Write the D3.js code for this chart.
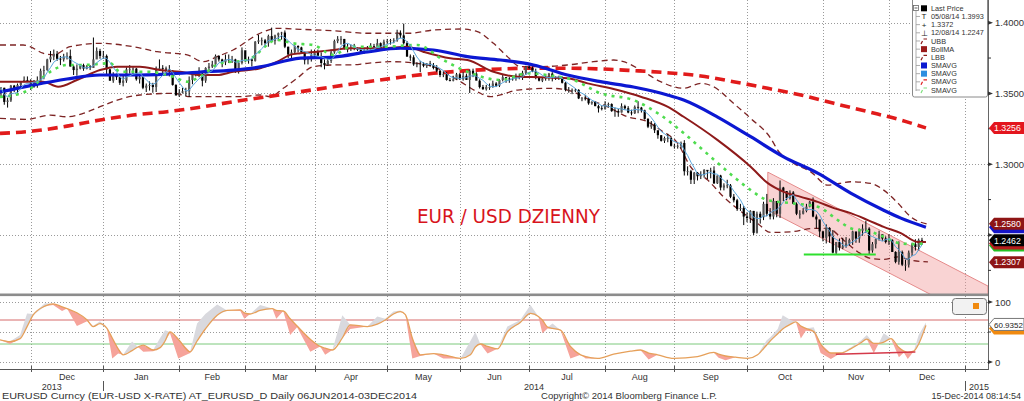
<!DOCTYPE html>
<html><head><meta charset="utf-8">
<script src="https://cdn.jsdelivr.net/npm/d3@7"></script>
<style>
body{margin:0;background:#fff}
svg{display:block}
text{font-family:"Liberation Sans",Arial,sans-serif}
</style></head>
<body><svg id="c" width="1024" height="401"></svg>
<script>
// ---------------- DATA ----------------
// trading-day index of first bar (19 Nov 2013); index 0 = 2 Dec 2013
const priceStart = -9;
const hi = [
 1.3545,1.3540,1.3470,1.3560,1.3560,1.3570,1.3585,1.3620,1.3620,
 1.3600,1.3595,1.3620,1.3675,1.3695,1.3745,1.3800,1.3810,1.3800,1.3765,1.3780,1.3790,1.3810,1.3700,1.3705,1.3705,1.3710,1.3700,1.3700,1.3895,1.3825,1.3815,
 1.3800,1.3775,1.3675,1.3650,1.3640,1.3620,1.3625,1.3685,1.3700,1.3685,1.3680,1.3630,1.3620,1.3570,1.3585,1.3575,1.3690,1.3740,1.3700,1.3690,1.3700,1.3665,1.3565,
 1.3530,1.3540,1.3540,1.3620,1.3640,1.3650,1.3685,1.3645,1.3685,1.3715,1.3730,1.3775,1.3770,1.3745,1.3775,1.3775,1.3765,1.3745,1.3725,1.3825,
 1.3790,1.3760,1.3745,1.3870,1.3915,1.3895,1.3885,1.3915,1.3965,1.3915,1.3930,1.3935,1.3945,1.3830,1.3810,1.3840,1.3840,1.3830,1.3795,1.3760,1.3810,
 1.3810,1.3810,1.3790,1.3740,1.3745,1.3810,1.3880,1.3905,1.3905,1.3885,1.3850,1.3845,1.3850,1.3825,1.3815,1.3815,1.3835,1.3855,1.3850,1.3885,1.3860,1.3880,
 1.3885,1.3885,1.3890,1.3950,1.3945,1.3993,1.3870,1.3775,1.3770,1.3720,1.3730,1.3720,1.3715,1.3730,1.3715,1.3700,1.3665,1.3655,1.3650,1.3610,1.3625,1.3645,
 1.3645,1.3650,1.3640,1.3670,1.3675,1.3650,1.3600,1.3560,1.3560,1.3570,1.3590,1.3580,1.3600,1.3630,1.3615,1.3615,1.3625,1.3640,1.3640,1.3660,1.3695,
 1.3700,1.3690,1.3675,1.3615,1.3615,1.3635,1.3645,1.3650,1.3620,1.3625,1.3620,1.3580,1.3545,1.3535,1.3535,1.3530,1.3475,1.3490,1.3470,1.3445,1.3445,1.3420,1.3415,
 1.3445,1.3435,1.3430,1.3400,1.3390,1.3430,1.3420,1.3410,1.3385,1.3415,1.3445,1.3405,1.3385,1.3325,1.3305,1.3290,1.3215,1.3205,1.3195,1.3215,1.3195,
 1.3145,1.3140,1.3160,1.3170,1.2985,1.2960,1.2945,1.2945,1.2950,1.2965,1.2955,1.2975,1.2985,1.2920,1.2925,1.2865,1.2890,1.2860,1.2790,1.2755,1.2720,1.2705,
 1.2660,1.2675,1.2670,1.2665,1.2665,1.2735,1.2790,1.2690,1.2760,1.2740,1.2885,1.2840,1.2810,1.2815,1.2810,1.2730,1.2675,1.2690,1.2720,1.2740,1.2765,1.2645,1.2600,
 1.2530,1.2575,1.2555,1.2535,1.2450,1.2475,1.2480,1.2485,1.2475,1.2530,1.2520,1.2545,1.2575,1.2600,1.2555,1.2450,1.2475,1.2530,1.2500,1.2490,
 1.2505,1.2470,1.2385,1.2455,1.2390,1.2325,1.2390,1.2445,1.2470,1.2475,1.2480
];
const lo = [
 1.3480,1.3420,1.3400,1.3440,1.3510,1.3500,1.3540,1.3580,1.3580,
 1.3525,1.3540,1.3540,1.3570,1.3600,1.3660,1.3720,1.3735,1.3730,1.3700,1.3725,1.3740,1.3690,1.3630,1.3625,1.3670,1.3660,1.3670,1.3665,1.3680,1.3750,1.3745,
 1.3745,1.3625,1.3590,1.3575,1.3595,1.3560,1.3550,1.3575,1.3640,1.3630,1.3590,1.3570,1.3530,1.3510,1.3520,1.3505,1.3510,1.3660,1.3640,1.3640,1.3620,1.3555,1.3490,
 1.3475,1.3500,1.3480,1.3475,1.3565,1.3620,1.3615,1.3550,1.3575,1.3660,1.3680,1.3700,1.3725,1.3685,1.3700,1.3715,1.3715,1.3645,1.3640,1.3705,
 1.3720,1.3710,1.3690,1.3725,1.3850,1.3840,1.3830,1.3830,1.3865,1.3845,1.3870,1.3880,1.3820,1.3750,1.3750,1.3780,1.3790,1.3780,1.3705,1.3705,1.3725,
 1.3755,1.3755,1.3685,1.3670,1.3695,1.3715,1.3780,1.3855,1.3845,1.3810,1.3790,1.3800,1.3805,1.3800,1.3780,1.3780,1.3795,1.3800,1.3815,1.3815,1.3805,1.3800,
 1.3850,1.3845,1.3855,1.3865,1.3890,1.3845,1.3760,1.3730,1.3695,1.3685,1.3650,1.3685,1.3680,1.3690,1.3670,1.3650,1.3615,1.3615,1.3590,1.3585,1.3585,1.3595,
 1.3595,1.3590,1.3595,1.3503,1.3615,1.3595,1.3535,1.3525,1.3520,1.3525,1.3540,1.3545,1.3545,1.3585,1.3575,1.3575,1.3590,1.3590,1.3600,1.3595,1.3630,
 1.3670,1.3650,1.3600,1.3585,1.3580,1.3590,1.3590,1.3585,1.3595,1.3595,1.3570,1.3515,1.3505,1.3495,1.3510,1.3460,1.3445,1.3450,1.3420,1.3420,1.3410,1.3365,1.3380,
 1.3385,1.3400,1.3370,1.3335,1.3335,1.3365,1.3385,1.3360,1.3345,1.3355,1.3360,1.3365,1.3315,1.3255,1.3250,1.3220,1.3180,1.3160,1.3150,1.3155,1.3125,
 1.3110,1.3110,1.3110,1.2920,1.2920,1.2860,1.2860,1.2885,1.2895,1.2905,1.2895,1.2900,1.2860,1.2860,1.2815,1.2815,1.2830,1.2760,1.2730,1.2670,1.2670,1.2570,
 1.2590,1.2585,1.2500,1.2510,1.2580,1.2605,1.2635,1.2610,1.2610,1.2625,1.2620,1.2740,1.2745,1.2750,1.2720,1.2640,1.2615,1.2645,1.2660,1.2695,1.2625,1.2545,1.2485,
 1.2455,1.2440,1.2445,1.2370,1.2360,1.2390,1.2400,1.2410,1.2425,1.2430,1.2445,1.2445,1.2495,1.2515,1.2360,1.2375,1.2405,1.2460,1.2460,1.2440,
 1.2430,1.2380,1.2300,1.2290,1.2280,1.2247,1.2270,1.2350,1.2390,1.2390,1.2430
];
const cl = [
 1.3540,1.3440,1.3450,1.3555,1.3525,1.3560,1.3580,1.3595,1.3590,
 1.3545,1.3590,1.3590,1.3660,1.3665,1.3740,1.3760,1.3780,1.3745,1.3740,1.3760,1.3765,1.3690,1.3665,1.3675,1.3700,1.3675,1.3690,1.3680,1.3740,1.3800,1.3765,
 1.3765,1.3670,1.3590,1.3630,1.3615,1.3575,1.3590,1.3670,1.3670,1.3675,1.3600,1.3615,1.3540,1.3555,1.3560,1.3545,1.3680,1.3680,1.3675,1.3670,1.3660,1.3560,1.3485,
 1.3505,1.3515,1.3515,1.3595,1.3635,1.3635,1.3640,1.3590,1.3680,1.3690,1.3705,1.3765,1.3740,1.3720,1.3740,1.3740,1.3740,1.3670,1.3715,1.3805,
 1.3740,1.3740,1.3730,1.3865,1.3875,1.3875,1.3855,1.3905,1.3870,1.3910,1.3925,1.3930,1.3830,1.3775,1.3790,1.3835,1.3825,1.3790,1.3735,1.3750,1.3770,
 1.3795,1.3765,1.3715,1.3700,1.3730,1.3790,1.3870,1.3885,1.3885,1.3815,1.3815,1.3820,1.3815,1.3810,1.3790,1.3800,1.3810,1.3835,1.3830,1.3855,1.3810,1.3865,
 1.3870,1.3875,1.3875,1.3925,1.3910,1.3855,1.3760,1.3755,1.3705,1.3710,1.3710,1.3695,1.3710,1.3700,1.3680,1.3660,1.3630,1.3635,1.3595,1.3590,1.3600,1.3635,
 1.3600,1.3625,1.3595,1.3660,1.3640,1.3590,1.3545,1.3530,1.3545,1.3545,1.3570,1.3555,1.3595,1.3615,1.3605,1.3600,1.3605,1.3620,1.3615,1.3645,1.3690,
 1.3680,1.3655,1.3610,1.3590,1.3605,1.3615,1.3640,1.3610,1.3605,1.3610,1.3575,1.3525,1.3525,1.3525,1.3525,1.3465,1.3465,1.3460,1.3430,1.3440,1.3410,1.3395,1.3390,
 1.3425,1.3425,1.3375,1.3375,1.3365,1.3410,1.3395,1.3365,1.3360,1.3405,1.3400,1.3380,1.3320,1.3265,1.3280,1.3240,1.3205,1.3165,1.3185,1.3185,1.3130,
 1.3130,1.3130,1.3150,1.2950,1.2950,1.2890,1.2940,1.2915,1.2925,1.2960,1.2950,1.2955,1.2865,1.2920,1.2835,1.2850,1.2850,1.2770,1.2745,1.2685,1.2690,1.2630,
 1.2620,1.2670,1.2515,1.2650,1.2625,1.2720,1.2650,1.2630,1.2740,1.2650,1.2835,1.2810,1.2760,1.2800,1.2720,1.2650,1.2650,1.2670,1.2700,1.2735,1.2630,1.2610,1.2525,
 1.2480,1.2550,1.2490,1.2375,1.2450,1.2410,1.2420,1.2440,1.2465,1.2525,1.2475,1.2530,1.2545,1.2545,1.2390,1.2435,1.2470,1.2505,1.2475,1.2450,
 1.2465,1.2380,1.2310,1.2380,1.2290,1.2290,1.2375,1.2435,1.2415,1.2465,1.2462
];

// indicator lines: [trading-day index, price]
const sma100 = [[-9.3,1.3510],[0.7,1.3559],[11,1.3602],[21,1.3630],[31,1.3630],[41.3,1.3637],[51.3,1.3651],[61.3,1.3665],[69.5,1.3687],[81.7,1.3750],[91.7,1.3757],[102,1.3793],[112,1.3819],[122,1.3807],[132.3,1.3760],[142.3,1.3736],[152.3,1.3701],[162.6,1.3630],[172.6,1.3583],[182.6,1.3545],[192.9,1.3489],[197.8,1.3453],[208.1,1.3333],[218.1,1.3194],[228.1,1.3052],[238.4,1.2937],[248.4,1.2796],[258.4,1.2675],[263.6,1.2619],[271.2,1.2555]];
const bollMA = [[-9.3,1.3583],[3.7,1.3583],[8.3,1.3547],[14,1.3595],[21,1.3665],[26.2,1.3689],[33.1,1.3689],[39.2,1.3665],[45.3,1.3653],[51.3,1.3630],[56.5,1.3630],[61.3,1.3653],[69.5,1.3678],[74.7,1.3724],[78.6,1.3772],[81.7,1.3784],[86.8,1.3795],[91.7,1.3807],[96.8,1.3819],[106.8,1.3819],[114.1,1.3830],[118.9,1.3795],[127.1,1.3748],[132.3,1.3736],[140.2,1.3653],[147.5,1.3618],[154.4,1.3614],[162.6,1.3607],[168.7,1.3571],[177.8,1.3524],[184.8,1.3477],[192.9,1.3406],[197.8,1.3335],[208.1,1.3170],[218.1,1.2982],[223.3,1.2866],[228.1,1.2805],[233.3,1.2769],[238.4,1.2734],[243.3,1.2690],[248.4,1.2654],[253.6,1.2605],[258.4,1.2557],[263.6,1.2513],[268.7,1.2451],[271.2,1.2451]];
const upperBand = [[-9.3,1.3842],[-2.3,1.3842],[-0.2,1.3830],[3.7,1.3784],[6.8,1.3772],[11.9,1.3830],[21,1.3854],[31,1.3830],[38.3,1.3795],[47.4,1.3772],[52.3,1.3724],[56.5,1.3760],[61.3,1.3807],[69.5,1.3925],[74.7,1.3960],[81.7,1.3953],[91.7,1.3943],[102,1.3925],[115,1.3925],[122,1.3948],[130.2,1.3955],[135.3,1.3936],[140.2,1.3854],[144.4,1.3760],[148.4,1.3689],[154.4,1.3689],[162.6,1.3701],[170.5,1.3724],[176.6,1.3736],[179.6,1.3724],[184.8,1.3665],[190.8,1.3583],[197.8,1.3536],[203,1.3571],[206.9,1.3547],[212.9,1.3430],[218.1,1.3324],[224.2,1.3182],[226.3,1.3100],[231.2,1.3006],[236.3,1.2946],[241.5,1.2852],[248.4,1.2876],[254.5,1.2864],[258.4,1.2817],[262.7,1.2725],[266.6,1.2628],[271.8,1.2576]];
const lowerBand = [[-9.3,1.3324],[-1.1,1.3317],[5.9,1.3347],[11,1.3335],[15.9,1.3359],[21,1.3406],[26.2,1.3453],[33.1,1.3489],[43.2,1.3501],[48.3,1.3477],[63.5,1.3477],[69.5,1.3489],[72.6,1.3477],[76.5,1.3536],[80.7,1.3607],[85.6,1.3689],[91.7,1.3701],[96.8,1.3701],[102,1.3713],[108.9,1.3724],[117.1,1.3713],[122,1.3689],[129.3,1.3595],[135.3,1.3512],[139.3,1.3477],[142.3,1.3489],[147.5,1.3524],[157.5,1.3536],[162.6,1.3524],[169.6,1.3453],[174.7,1.3406],[180.8,1.3335],[186.9,1.3300],[190.8,1.3241],[196,1.3147],[199.9,1.2982],[205.1,1.2888],[209.9,1.2769],[216,1.2652],[220.2,1.2581],[224.2,1.2518],[230.2,1.2522],[237.2,1.2546],[241.5,1.2546],[246.3,1.2463],[250.6,1.2380],[254.5,1.2334],[258.4,1.2327],[262.7,1.2345],[266.6,1.2322],[271.8,1.2310]];
const sma200 = [[-9.3,1.3218],[0.7,1.3234],[11,1.3269],[21,1.3312],[31,1.3347],[41.3,1.3371],[51.3,1.3402],[61.3,1.3441],[71.7,1.3477],[81.7,1.3512],[91.7,1.3547],[102,1.3583],[112,1.3614],[122,1.3642],[132.3,1.3661],[142.3,1.3673],[152.3,1.3678],[162.6,1.3678],[172.6,1.3673],[182.6,1.3661],[192.9,1.3646],[203,1.3623],[212.9,1.3583],[223.3,1.3536],[233.3,1.3489],[243.3,1.3430],[253.6,1.3371],[263.6,1.3312],[271.2,1.3256]];
const sma10 = [[-9.3,1.3475],[-1.7,1.3512],[5.9,1.3653],[11,1.3701],[15.9,1.3701],[24.1,1.3713],[27.1,1.3653],[35.3,1.3653],[43.2,1.3618],[47.4,1.3583],[51.3,1.3618],[57.4,1.3713],[65.6,1.3736],[74.7,1.3878],[79.5,1.3854],[85.6,1.3842],[91.7,1.3772],[96.8,1.3830],[106.8,1.3830],[117.1,1.3842],[125,1.3736],[132.3,1.3653],[142.3,1.3595],[150.5,1.3642],[158.4,1.3623],[164.4,1.3595],[172.6,1.3501],[182.6,1.3453],[190.8,1.3347],[197.8,1.3220],[206,1.3052],[213,1.2911],[218.1,1.2817],[223.3,1.2746],[230.2,1.2725],[238.4,1.2699],[244.5,1.2605],[248.4,1.2548],[254.5,1.2522],[258.4,1.2487],[263.6,1.2440],[268.7,1.2435],[271.2,1.2451]];

// drawn annotations
const channelTop = [[223.3,1.2944],[290,1.2139]];
const channelBottom = [[223.3,1.2675],[290,1.1870]];
const supportLine = [[234.2,1.2362],[256,1.2362]];
const oscTrendLine = [[243.9,12.8],[268,16.7]];

// oscillator: [index, slow (orange), fast]
const osc = [[-9.3,37,37],[-6.3,34,30],[-3.2,39,45],[-1.1,59,81],[0.7,78,80],[4.3,93,98],[6.8,97,95],[9.5,92,85],[11,89,89],[14,82,60],[17.1,70,68],[18.9,59,60],[21,64,68],[23.1,56,56],[24.7,40,6],[26.5,22,14],[28,12,12],[30.7,19,34],[32.5,25,25],[34.1,28,17],[37.1,20,18],[39.2,24,40],[40.7,35,53],[42.2,50,48],[44.7,38,6],[48.3,17,15],[50.4,35,64],[52.9,55,80],[56.5,78,96],[59.5,86,86],[63.5,87,85],[64.7,82,72],[66.5,80,80],[69.5,86,95],[73.2,89,89],[74.4,86,72],[76.5,85,85],[78.6,72,45],[80.7,60,58],[84.7,38,17],[87.7,26,26],[89.2,23,12],[91.4,20,20],[94.4,40,78],[96.8,62,55],[102,59,59],[105,63,76],[107.4,70,72],[109.9,80,84],[112,84,86],[113.5,79,79],[115.6,40,6],[118,12,10],[122,14,14],[125,12,6],[130.2,6,6],[133.2,12,35],[134.7,25,50],[136.2,30,30],[138.4,26,14],[141.4,22,22],[144.4,50,59],[148.3,66,70],[151.4,81,95],[153.8,76,76],[155,70,48],[156.6,58,56],[158.1,56,64],[160.5,53,53],[163.5,26,6],[166.6,12,12],[168.1,9,6],[171.7,6,6],[176.6,13,13],[181.7,18,18],[184.7,20,20],[187.2,15,4],[189.9,12,12],[194.8,6,6],[202,9,9],[206.9,16,16],[208.4,13,7],[210.5,10,3],[213.5,8,8],[217.2,6,6],[220.2,12,12],[222.9,28,36],[224.2,36,42],[226.3,47,55],[227.8,55,78],[230.2,63,70],[231.8,67,67],[233.3,60,39],[234.8,56,52],[237.2,51,58],[239.3,30,15],[242.4,15,5],[245.4,15,15],[248.4,22,24],[251.5,32,36],[253.3,38,45],[255.4,31,15],[256.9,31,31],[258.4,33,48],[260.6,39,39],[263,24,8],[264.5,18,16],[265.7,16,5],[267.5,18,18],[269,30,45],[271.2,61,66]];

// axes
const monthStarts = [0,22,45,65,86,108,130,151,174,195,217,240,260,283];
const monthLabels = ["Dec","Jan","Feb","Mar","Apr","May","Jun","Jul","Aug","Sep","Oct","Nov","Dec"];
const yearLabels = ["2013","2014","2015"];
const yearBounds = [22,283];
const priceTicks = [1.25,1.30,1.35,1.40];
const priceLabelsShown = [false,true,true,true]; // 1.2500 is hidden behind the value tags
const priceMinor = [1.225,1.275,1.325,1.375];
const oscTicks = [0,100];
const oscGridVals = [0,50,100];
const oscLevels = [30,70];

// right-axis value tags (covered ones show only as colour slivers)
const tags = [
 {v:1.3256, fill:"#e3161e", label:"1.3256", covered:false},
 {v:1.2555, fill:"#1616c8", label:"1.2555", covered:true},
 {v:1.2580, fill:"#8e1515", label:"1.2580", covered:false},
 {v:1.2425, fill:"#22c222", label:"1.2425", covered:true},
 {v:1.2440, fill:"#b51c1c", label:"1.2440", covered:true},
 {v:1.2462, fill:"#000000", label:"1.2462", covered:false},
 {v:1.2307, fill:"#8e1515", label:"1.2307", covered:false}
];
const legendRows = [
 {icon:"sq", color:"#000", label:"Last Price"},
 {icon:"T", label:"05/08/14 1.3993"},
 {icon:"+", label:"1.3372"},
 {icon:"⊥", label:"12/08/14 1.2247"},
 {icon:"dash", color:"#8b1a1a", label:"UBB"},
 {icon:"sq", color:"#9b1b1b", label:"BollMA"},
 {icon:"dash", color:"#8b1a1a", label:"LBB"},
 {icon:"sq", color:"#0b1ad0", label:"SMAVG"},
 {icon:"sq", color:"#2d8ee0", label:"SMAVG"},
 {icon:"dash", color:"#e02020", label:"SMAVG"},
 {icon:"dash", color:"#7ee07e", label:"SMAVG"}
];
const titleText = "EUR / USD DZIENNY";
const footLeft = "EURUSD Curncy (EUR-USD X-RATE) AT_EURUSD_D  Daily 06JUN2014-03DEC2014";
const footMid = "Copyright\u00A9 2014 Bloomberg Finance L.P.";
const footRight = "15-Dec-2014 08:14:54";
const oscLast = "60.9352";

// ---------------- CHART ----------------
const svg = d3.select("#c");
const XR = 988, MB = 294, LT = 296, LB = 369;
const x = d3.scaleLinear().domain([-9.3, 290]).range([0, XR]);
const y = d3.scaleLinear().domain([1.2083, 1.416]).range([MB, 0]);
const yo = d3.scaleLinear().domain([0, 100]).range([362, 302]);

const defs = svg.append("defs");
defs.append("clipPath").attr("id","cm").append("rect").attr("x",0).attr("y",0).attr("width",XR).attr("height",MB);
defs.append("clipPath").attr("id","co").append("rect").attr("x",0).attr("y",LT).attr("width",XR).attr("height",LB-LT);

// grid
const grid = svg.append("g").attr("stroke","#9a9a9a").attr("stroke-width",1).attr("stroke-dasharray","1,2").attr("fill","none");
monthStarts.forEach(m => {
  const xx = Math.round(x(m)) + 0.5;
  grid.append("line").attr("x1",xx).attr("x2",xx).attr("y1",0).attr("y2",MB);
  grid.append("line").attr("x1",xx).attr("x2",xx).attr("y1",LT).attr("y2",LB);
});
priceTicks.forEach(p => {
  const yy = Math.round(y(p)) + 0.5;
  grid.append("line").attr("x1",0).attr("x2",XR).attr("y1",yy).attr("y2",yy);
});
oscGridVals.forEach(v => {
  const yy = Math.round(yo(v)) + 0.5;
  grid.append("line").attr("x1",0).attr("x2",XR).attr("y1",yy).attr("y2",yy);
});

// ---- main panel
const main = svg.append("g").attr("clip-path","url(#cm)");
const ln = d3.line().x(d=>x(d[0])).y(d=>y(d[1])).curve(d3.curveMonotoneX);

// channel
const chPoly = [channelTop[0], channelTop[1], channelBottom[1], channelBottom[0]];
main.append("path").attr("d", d3.line().x(d=>x(d[0])).y(d=>y(d[1]))(chPoly) + "Z")
  .attr("fill","rgba(240,150,150,0.42)").attr("stroke","#e58a8a").attr("stroke-width",1);

// bands
[upperBand, lowerBand].forEach(b => main.append("path").attr("d", ln(b)).attr("fill","none")
  .attr("stroke","#7d2424").attr("stroke-width",1.3).attr("stroke-dasharray","6,4"));

// 200 SMA red dashed
main.append("path").attr("d", ln(sma200)).attr("fill","none").attr("stroke","#e11b1b")
  .attr("stroke-width",3.6).attr("stroke-dasharray","10,6");

// bars
const idx = d3.range(hi.length);
const bars = main.append("g");
bars.selectAll("line").data(idx).join("line")
  .attr("x1", i=>x(priceStart+i)).attr("x2", i=>x(priceStart+i))
  .attr("y1", i=>y(hi[i])).attr("y2", i=>y(lo[i]))
  .attr("stroke","#000").attr("stroke-width",1);
bars.selectAll("rect").data(idx).join("rect")
  .attr("x", i=>x(priceStart+i)-1.1).attr("width",2.2)
  .attr("y", i=>{const o=i>0?cl[i-1]:cl[i]; return y(Math.max(o,cl[i]));})
  .attr("height", i=>{const o=i>0?cl[i-1]:cl[i]; return Math.max(0.8, Math.abs(y(o)-y(cl[i])));})
  .attr("fill", i=>{const o=i>0?cl[i-1]:cl[i]; return cl[i]>=o?"#555":"#000";});

// BollMA
main.append("path").attr("d", ln(bollMA)).attr("fill","none").attr("stroke","#8e1a1a").attr("stroke-width",2);
// 100 SMA blue
main.append("path").attr("d", ln(sma100)).attr("fill","none").attr("stroke","#0c18d2").attr("stroke-width",3.2);
// green dotted
main.append("path").attr("d", ln(sma10)).attr("fill","none").attr("stroke","#4fdc4f")
  .attr("stroke-width",2.6).attr("stroke-dasharray","3,5");
// light-blue 5-day average of closes
const sma5 = cl.map((c,i)=>[priceStart+i, d3.mean(cl.slice(Math.max(0,i-4), i+1))]);
main.append("path").attr("d", d3.line().x(d=>x(d[0])).y(d=>y(d[1]))(sma5)).attr("fill","none")
  .attr("stroke","#5aa6dc").attr("stroke-width",1);

// support line
main.append("path").attr("d", d3.line().x(d=>x(d[0])).y(d=>y(d[1]))(supportLine))
  .attr("stroke","#2ee02e").attr("stroke-width",2.2).attr("fill","none");

// title
svg.append("text").attr("x",417).attr("y",223).attr("fill","#d8141c")
  .attr("font-size",20).style("font-family","'DejaVu Sans',sans-serif")
  .attr("textLength",183).attr("lengthAdjust","spacingAndGlyphs").text(titleText);

// ---- oscillator panel
const og = svg.append("g").attr("clip-path","url(#co)");
oscLevels.forEach((v,k)=>{
  og.append("line").attr("x1",0).attr("x2",XR).attr("y1",yo(v)).attr("y2",yo(v))
    .attr("stroke", k===0?"#7cc97c":"#d66a6a").attr("stroke-width",1);
});
const areaUp = d3.area().x(d=>x(d[0])).y0(d=>yo(d[1])).y1(d=>yo(Math.max(d[1],d[2])));
const areaDn = d3.area().x(d=>x(d[0])).y0(d=>yo(d[1])).y1(d=>yo(Math.min(d[1],d[2])));
og.append("path").attr("d", areaUp(osc)).attr("fill","#d9d9de");
og.append("path").attr("d", areaDn(osc)).attr("fill","#f6a39a");
og.append("path").attr("d", d3.line().x(d=>x(d[0])).y(d=>yo(d[1])).curve(d3.curveMonotoneX)(osc))
  .attr("fill","none").attr("stroke","#e6a05a").attr("stroke-width",1.3);
og.append("path").attr("d", d3.line().x(d=>x(d[0])).y(d=>yo(d[1]))(oscTrendLine))
  .attr("fill","none").attr("stroke","#d43a4a").attr("stroke-width",1.5);

// panel frames
svg.append("rect").attr("x",0).attr("y",MB-0.5).attr("width",XR+1).attr("height",2.6).attr("fill","#8c8c8c");
svg.append("line").attr("x1",0).attr("x2",XR).attr("y1",LB+0.5).attr("y2",LB+0.5).attr("stroke","#555").attr("stroke-width",1.2);
svg.append("line").attr("x1",XR+0.5).attr("x2",XR+0.5).attr("y1",0).attr("y2",LB+1).attr("stroke","#666").attr("stroke-width",1);

// right axis
const ax = svg.append("g").attr("font-size",9.5).attr("fill","#333");
priceTicks.forEach((p,k)=>{
  const yy = y(p);
  ax.append("path").attr("d",`M${XR},${yy-2}L${XR+5},${yy}L${XR},${yy+2}Z`).attr("fill","#333");
  if(priceLabelsShown[k]) ax.append("text").attr("x",XR+7).attr("y",yy+3.5).text(d3.format(".4f")(p));
});
priceMinor.forEach(p=>{
  ax.append("line").attr("x1",XR).attr("x2",XR+3).attr("y1",y(p)).attr("y2",y(p)).attr("stroke","#333");
});
oscTicks.forEach(v=>{
  const yy = yo(v);
  ax.append("path").attr("d",`M${XR},${yy-2}L${XR+5},${yy}L${XR},${yy+2}Z`).attr("fill","#333");
  ax.append("text").attr("x",XR+7).attr("y",yy+3.5).text(v);
});
ax.append("line").attr("x1",XR).attr("x2",XR+3).attr("y1",yo(50)).attr("y2",yo(50)).attr("stroke","#333");

// value tags
function tag(yc, fill, label, textFill, stroke, fs){
  const g = svg.append("g");
  g.append("path").attr("d",`M${XR+1},${yc}L${XR+6},${yc-6}L1024,${yc-6}L1024,${yc+6}L${XR+6},${yc+6}Z`)
    .attr("fill",fill).attr("stroke",stroke||"none");
  if(label) g.append("text").attr("x",XR+6).attr("y",yc+3.2).attr("font-size",fs||8.8)
    .attr("fill",textFill||"#fff").text(label);
}
tags.forEach(t=>tag(y(t.v), t.fill, t.covered ? "" : t.label));
tag(yo(56), "#f08a10", "", "#fff");
tag(yo(60.9352)-1, "#fff", oscLast, "#222", "#777", 8);

// bottom axis
const bx = svg.append("g").attr("font-size",9).attr("fill","#333");
monthStarts.forEach(m=>{
  const xx = Math.round(x(m))+0.5;
  bx.append("line").attr("x1",xx).attr("x2",xx).attr("y1",LB-3).attr("y2",LB+3).attr("stroke","#555");
});
monthLabels.forEach((lab,k)=>{
  bx.append("text").attr("x",(x(monthStarts[k])+x(monthStarts[k+1]))/2).attr("y",380)
    .attr("text-anchor","middle").text(lab);
});
yearBounds.forEach(b=>{
  const xx = Math.round(x(b))+0.5;
  bx.append("line").attr("x1",xx).attr("x2",xx).attr("y1",381).attr("y2",391).attr("stroke","#555");
});
bx.append("text").attr("x",(x(-9.3)+x(yearBounds[0]))/2).attr("y",390).attr("text-anchor","middle").text(yearLabels[0]);
bx.append("text").attr("x",(x(yearBounds[0])+x(yearBounds[1]))/2).attr("y",390).attr("text-anchor","middle").text(yearLabels[1]);
bx.append("text").attr("x",x(yearBounds[1])+4).attr("y",390).text(yearLabels[2]);

// footer
const ft = svg.append("g").attr("font-size",9).attr("fill","#333");
ft.append("text").attr("x",2).attr("y",399).attr("textLength",415).attr("lengthAdjust","spacingAndGlyphs").text(footLeft);
ft.append("text").attr("x",541).attr("y",399).attr("textLength",176).attr("lengthAdjust","spacingAndGlyphs").text(footMid);
ft.append("text").attr("x",1021).attr("y",399).attr("text-anchor","end").text(footRight);

// top-right legend
const lg = svg.append("g");
lg.append("rect").attr("x",912.5).attr("y",-2).attr("width",75).attr("height",99).attr("rx",2)
  .attr("fill","#fff").attr("stroke","#8a8a8a");
lg.append("line").attr("x1",916).attr("x2",916).attr("y1",11).attr("y2",91).attr("stroke","#999").attr("stroke-width",0.8);
lg.append("rect").attr("x",913.5).attr("y",5.5).attr("width",5).attr("height",5).attr("fill","#fff").attr("stroke","#666").attr("stroke-width",0.8);
lg.append("line").attr("x1",914.5).attr("x2",917.5).attr("y1",8).attr("y2",8).attr("stroke","#333").attr("stroke-width",0.8);
legendRows.forEach((r,k)=>{
  const yc = 8.3 + k*8.17;
  if(k>0) lg.append("line").attr("x1",916).attr("x2",920).attr("y1",yc).attr("y2",yc).attr("stroke","#999").attr("stroke-width",0.8);
  if(r.icon==="sq"){
    lg.append("rect").attr("x",921).attr("y",yc-3).attr("width",6).attr("height",6).attr("fill",r.color);
  } else if(r.icon==="dash"){
    lg.append("path").attr("d",`M921,${yc+3}L922.5,${yc}M923.5,${yc-2}L927,${yc-2}`).attr("stroke",r.color).attr("stroke-width",1.2).attr("fill","none");
  } else {
    lg.append("text").attr("x",924).attr("y",yc+3).attr("text-anchor","middle").attr("font-size",8).attr("fill","#222").text(r.icon);
  }
  lg.append("text").attr("x",931).attr("y",yc+2.6).attr("font-size",7.3).attr("fill","#333").text(r.label);
});

// oscillator legend box
svg.append("rect").attr("x",952.5).attr("y",298.5).attr("width",34).attr("height",16).attr("rx",3)
  .attr("fill","#f2f2f2").attr("stroke","#777");
svg.append("rect").attr("x",973).attr("y",303).attr("width",6).attr("height",6).attr("fill","#f08a10");
</script>
</body></html>
